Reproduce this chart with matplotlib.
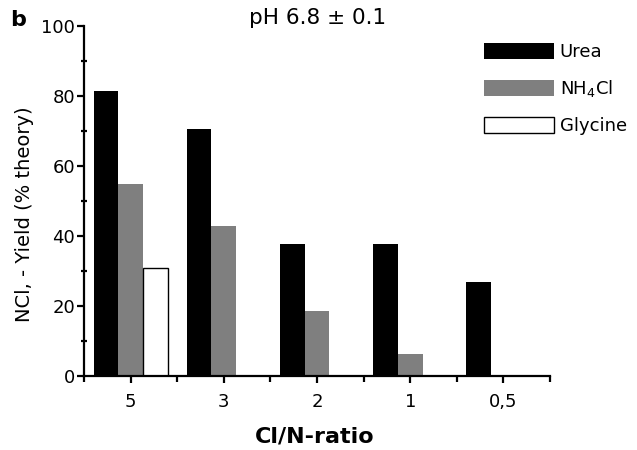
import matplotlib
matplotlib.use("Agg")
import matplotlib.pyplot as plt
import numpy as np
from matplotlib.ticker import MultipleLocator, FixedLocator

plt.rcParams['font.family'] = ['DejaVu Sans']

categories = ["5", "3", "2", "1", "0,5"]
urea = [81.5, 70.5, 37.7, 37.7, 26.9]
nh4cl = [54.9, 42.9, 18.6, 6.3, None]
glycine = [30.9, None, None, None, None]
series_labels = ["Urea", "NH$_4$Cl", "Glycine"]

W, H = 637, 450
fig = plt.figure(figsize=(W / 100, H / 100), dpi=100)
ax = fig.add_axes([84 / W, 1 - 376 / H, (550 - 84) / W, (376 - 26) / H])

x = np.arange(len(categories))
bw = 0.265

def vals(v):
    return [np.nan if a is None else a for a in v]

b1 = ax.bar(x - bw, vals(urea), bw, color='black', edgecolor='black', linewidth=0, label=series_labels[0])
b2 = ax.bar(x, vals(nh4cl), bw, color='#7f7f7f', edgecolor='#7f7f7f', linewidth=0, label=series_labels[1])
b3 = ax.bar(x + bw, vals(glycine), bw, color='white', edgecolor='black', linewidth=1.0, label=series_labels[2])

ax.set_xlim(-0.5, 4.5)
ax.set_ylim(0, 100)
ax.set_xticks(x)
ax.set_xticklabels(categories)
ax.xaxis.set_minor_locator(FixedLocator(np.arange(-0.5, 4.6, 1.0)))
ax.yaxis.set_major_locator(MultipleLocator(20))
ax.yaxis.set_minor_locator(MultipleLocator(10))

for s in ['top', 'right']:
    ax.spines[s].set_visible(False)
for s in ['left', 'bottom']:
    ax.spines[s].set_linewidth(1.6)

ax.tick_params(axis='y', which='major', direction='out', length=5, width=1.6, labelsize=13, pad=1.5)
ax.tick_params(axis='y', which='minor', direction='inout', length=5, width=1.6)
ax.tick_params(axis='x', which='major', direction='out', length=5, width=1.6, labelsize=13, pad=7)
ax.tick_params(axis='x', which='minor', direction='out', length=4, width=1.6)

ax.set_ylabel("NCl, - Yield (% theory)", fontsize=14)
ax.yaxis.label.set_va('center')
ax.yaxis.set_label_coords(-0.127, 0.463)
ax.set_xlabel("Cl/N-ratio", fontsize=16, fontweight='bold')
ax.xaxis.label.set_va('center')
ax.xaxis.set_label_coords(0.494, -0.174)

fig.text(318 / W, 1 - 18 / H, "pH 6.8 ± 0.1", fontsize=15.5, ha='center', va='center')
fig.text(10 / W, 1 - 20 / H, "b", fontsize=16, fontweight='bold', ha='left', va='center')

leg = ax.legend(handles=[b1, b2, b3], loc='upper left', bbox_to_anchor=(484 / W, 1 - 43 / H),
                bbox_transform=fig.transFigure, frameon=False, fontsize=13,
                handlelength=3.9, handleheight=1.0, labelspacing=0.95, handletextpad=0.3,
                borderpad=0, borderaxespad=0)

fig.savefig("out.png", dpi=100)
